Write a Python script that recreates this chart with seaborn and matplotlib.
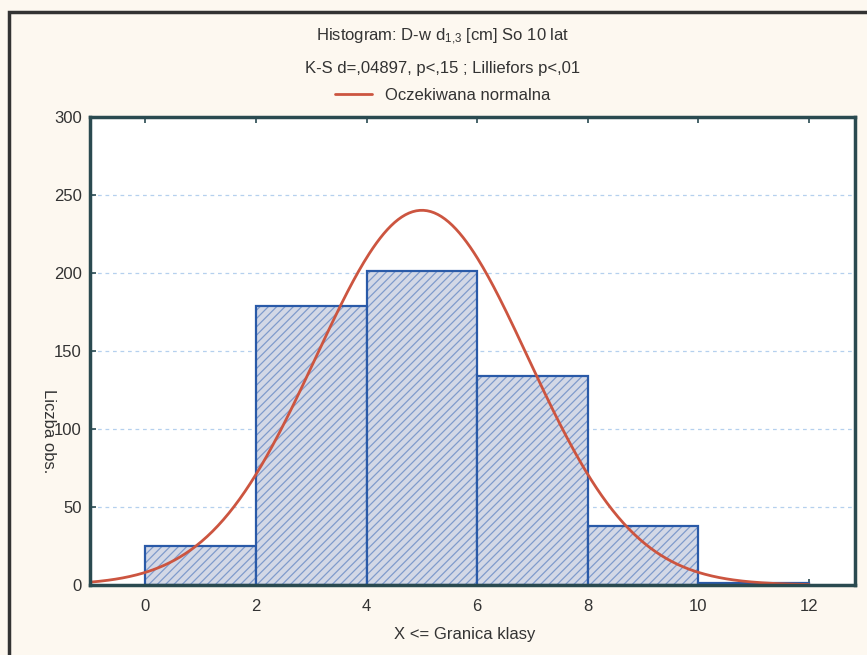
import numpy as np
import pandas as pd
import matplotlib
matplotlib.use("Agg")
import matplotlib.pyplot as plt
import matplotlib.colors as mcolors
import seaborn as sns
from matplotlib.patches import Rectangle
from matplotlib.lines import Line2D

# Data
bin_edges = [0, 2, 4, 6, 8, 10, 12]
counts = [25, 179, 201, 134, 38, 1]
x_ticks = [0, 2, 4, 6, 8, 10, 12]
y_ticks = [0, 50, 100, 150, 200, 250, 300]
fit_mean = 5.0
fit_sd = 1.92
n_total = sum(counts)

sns.set_theme(style="white")
plt.rcParams['font.family'] = ['Liberation Sans', 'DejaVu Sans']
plt.rcParams['mathtext.fontset'] = 'custom'
plt.rcParams['mathtext.rm'] = 'Liberation Sans'
plt.rcParams['mathtext.it'] = 'Liberation Sans'
plt.rcParams['hatch.linewidth'] = 0.9

fig = plt.figure(figsize=(8.67, 6.55), dpi=100)
fig.patch.set_facecolor('#fdf8f0')
ax = fig.add_axes([90/867, 1-585/655, (855-90)/867, (585-117)/655])
ax.set_facecolor('white')

centers = [(bin_edges[i] + bin_edges[i+1]) / 2 for i in range(len(counts))]
df = pd.DataFrame({'x': centers, 'w': counts})
sns.histplot(data=df, x='x', weights='w', bins=bin_edges, ax=ax,
             color='#d3d8e6', edgecolor='#2a5aa8', linewidth=1.6, alpha=1)
for p in ax.patches:
    p.set_facecolor('#d3d8e6')
    p.set_hatch('////')
    p._hatch_color = mcolors.to_rgba('#7f9bcc')

# expected normal curve
xs = np.linspace(-1, 12, 400)
ys = n_total * 2 / (fit_sd * np.sqrt(2*np.pi)) * np.exp(-0.5*((xs-fit_mean)/fit_sd)**2)
sns.lineplot(x=xs, y=ys, ax=ax, color='#cc5540', linewidth=2.0)

ax.set_xlim(-1, 12.83)
ax.set_ylim(0, 300)
ax.set_xticks(x_ticks)
ax.set_yticks(y_ticks)
ax.set_xlabel('')
ax.set_ylabel('')
for yv in y_ticks[1:-1]:
    ax.axhline(yv, color='#b5d0ee', linestyle=(0, (3, 3)), linewidth=0.9, zorder=0)
ax.tick_params(axis='both', direction='in', length=4, width=1.2, color='#2a4a50',
               labelsize=12, labelcolor='#333333', top=True, bottom=True, left=True, right=False)
ax.tick_params(axis='x', pad=10)
ax.tick_params(axis='y', pad=6)
for s in ax.spines.values():
    s.set_color('#2a4a50')
    s.set_linewidth(2.5)
    s.set_visible(True)

cx = 443/867
fig.text(cx, 1-37/655, 'Histogram: D-w d$_{1{,}3}$ [cm] So 10 lat', ha='center', va='center',
         fontsize=12, color='#333333')
fig.text(cx, 1-68/655, 'K-S d=,04897, p<,15 ; Lilliefors p<,01', ha='center', va='center',
         fontsize=12, color='#333333')
fig.legend(handles=[Line2D([0], [0], color='#cc5540', lw=2)], labels=['Oczekiwana normalna'],
           loc='center', bbox_to_anchor=(cx, 1-95/655), frameon=False, fontsize=12,
           handlelength=2.2, labelcolor='#333333')
fig.text(48/867, 1-431/655, 'Liczba obs.', rotation=-90, ha='center', va='center',
         fontsize=12, color='#333333')
fig.text(465/867, 1-635/655, 'X <= Granica klasy', ha='center', va='center',
         fontsize=12, color='#333333')

fig.patches.append(Rectangle((9/867, -0.1), 1.2, 0.1 + 1-12/655, transform=fig.transFigure,
                             fill=False, edgecolor='#333333', linewidth=2.5))

fig.savefig('out.png', dpi=100, facecolor=fig.get_facecolor())
